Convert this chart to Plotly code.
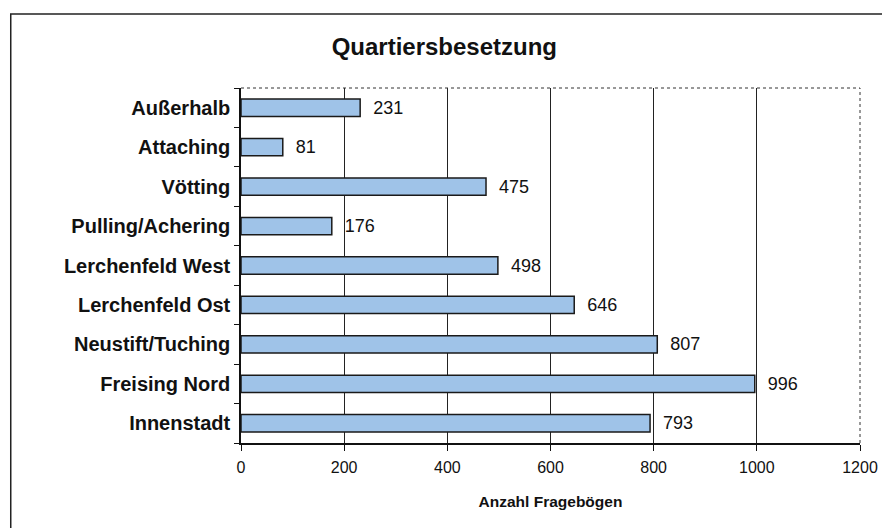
import plotly.graph_objects as go

categories = ["Außerhalb", "Attaching", "Vötting", "Pulling/Achering", "Lerchenfeld West",
              "Lerchenfeld Ost", "Neustift/Tuching", "Freising Nord", "Innenstadt"]
values = [231, 81, 475, 176, 498, 646, 807, 996, 793]
x_ticks = [0, 200, 400, 600, 800, 1000, 1200]

FONT = "Liberation Sans, Arial, sans-serif"

# page body has an 8px margin; work in screen coordinates and convert
OFF = 8
W, H = 890 - OFF, 528 - OFF
L, R, T, B = 241 - OFF, W - (862 - OFF), 88 - OFF, H - (443 - OFF)
pw, ph = W - L - R, H - T - B

def px_x(p):
    return (p - OFF - L) / pw

def px_y(p):
    return (H - B - (p - OFF)) / ph

fig = go.Figure(go.Bar(
    y=categories, x=values, orientation="h",
    marker=dict(color="#9fc3e8", line=dict(color="#1a1a1a", width=1.5)),
    width=0.44,
    text=values, texttemplate="  %{x}", textposition="outside",
    constraintext="none",
    textfont=dict(family=FONT, size=18, color="#111"),
    cliponaxis=False,
))

fig.update_layout(
    width=W, height=H,
    margin=dict(l=L, r=R, t=T, b=B),
    paper_bgcolor="white", plot_bgcolor="white",
    showlegend=False,
    title=dict(text="<b>Quartiersbesetzung</b>", x=px_x(445), xref="paper",
               xanchor="center", y=1 - (47 - OFF) / H, yanchor="middle",
               font=dict(family=FONT, size=24, color="#111")),
    xaxis=dict(range=[0, 1200], tickvals=x_ticks, showgrid=True, gridcolor="#222",
               gridwidth=1, showline=True, linecolor="#111", linewidth=1.5,
               ticks="outside", ticklen=6, tickcolor="#111", zeroline=False,
               ticklabelstandoff=3,
               tickfont=dict(family=FONT, size=16, color="#111"),
               title=dict(text="<b>Anzahl Fragebögen</b>", standoff=21,
                          font=dict(family=FONT, size=15.5, color="#111"))),
    yaxis=dict(autorange="reversed", showline=True, linecolor="#111", linewidth=1.5,
               ticks="outside", tickson="boundaries", ticklen=5, tickcolor="#111",
               showgrid=False, tickfont=dict(family=FONT, size=20, color="#111"),
               ticklabelstandoff=5),
    bargap=0.56,
)

fig.update_yaxes(tickmode="array", tickvals=categories,
                 ticktext=[f"<b>{c}</b>" for c in categories])

# dashed top and right border of plot area
fig.add_shape(type="line", xref="paper", yref="paper", x0=0, x1=1, y0=1, y1=1,
              line=dict(color="#333", width=1, dash="dot"))
fig.add_shape(type="line", xref="paper", yref="paper", x0=1, x1=1, y0=0, y1=1,
              line=dict(color="#333", width=1, dash="dot"))
# outer frame of the chart
fig.add_shape(type="rect", xref="paper", yref="paper",
              x0=px_x(10), x1=px_x(887), y0=px_y(535), y1=px_y(14),
              line=dict(color="#222", width=1.5), layer="below")

fig.write_html("out.html")
